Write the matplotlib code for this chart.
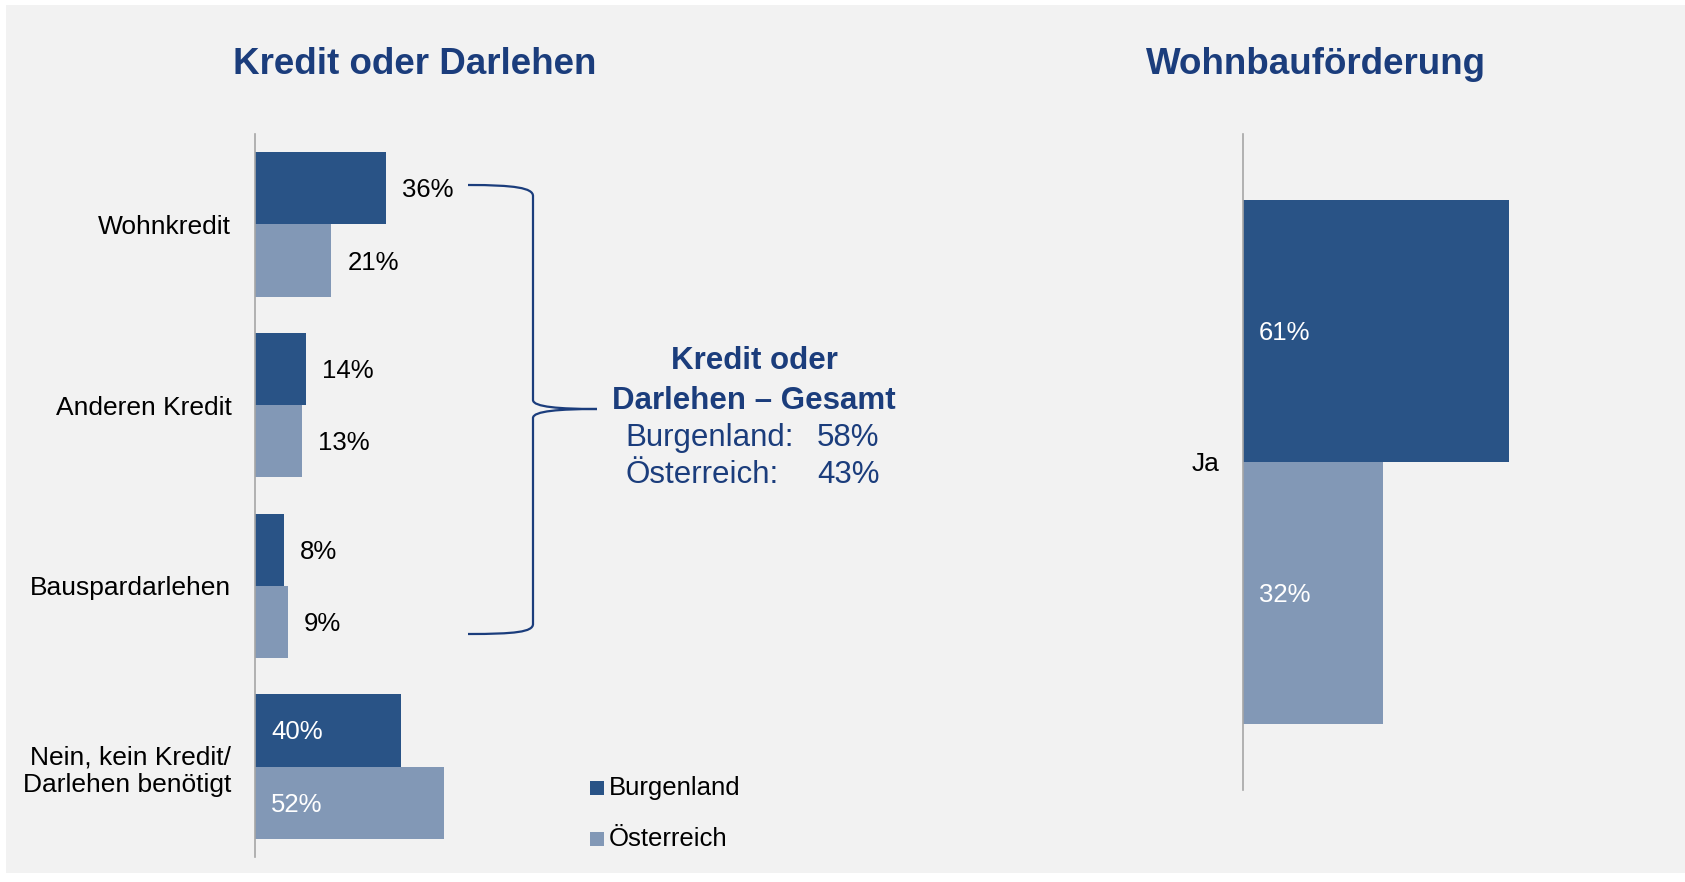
import matplotlib
matplotlib.use("Agg")
import matplotlib.pyplot as plt
from matplotlib.patches import Rectangle, PathPatch
from matplotlib.path import Path
import matplotlib.transforms as mtransforms

plt.rcParams['font.family'] = ['Liberation Sans', 'DejaVu Sans']

# ---------------- data ----------------
categories_left = ["Wohnkredit", "Anderen Kredit", "Bauspardarlehen", "Nein, kein Kredit/\nDarlehen benötigt"]
burgenland_left = [36, 14, 8, 40]
oesterreich_left = [21, 13, 9, 52]
inside_label_left = [False, False, False, True]

categories_right = ["Ja"]
burgenland_right = [61]
oesterreich_right = [32]

series_names = ["Burgenland", "Österreich"]
title_left = "Kredit oder Darlehen"
title_right = "Wohnbauförderung"
summary_title = "Kredit oder\nDarlehen – Gesamt"
summary_rows = [("Burgenland:", "58%"), ("Österreich:", "43%")]

# ---------------- style ----------------
W, H = 1685, 882
C_DARK = "#295386"
C_LIGHT = "#8298B6"
C_TITLE = "#1B3D7C"
C_AXIS = "#A6A6A6"
BG = "#F2F2F2"

fig = plt.figure(figsize=(W / 100, H / 100), dpi=100, facecolor="white")
# pixel transform (origin top-left)
pxT = mtransforms.Affine2D().scale(1 / W, -1 / H).translate(0, 1) + fig.transFigure

fig.patches.append(Rectangle((6, 5), W - 6, 868, transform=pxT, facecolor=BG,
                             edgecolor="none", zorder=-10))


def make_axes(x0, top, bottom, px_per_pct):
    width = 100 * px_per_pct
    ax = fig.add_axes([x0 / W, 1 - bottom / H, width / W, (bottom - top) / H])
    ax.set_facecolor("none")
    ax.set_xlim(0, 100)
    for s in ["top", "right", "bottom"]:
        ax.spines[s].set_visible(False)
    ax.spines["left"].set_color(C_AXIS)
    ax.spines["left"].set_linewidth(1.2)
    ax.set_xticks([])
    ax.tick_params(axis="y", length=0, pad=17, labelsize=19)
    return ax


def draw_bars(ax, cats, b_vals, o_vals, inside):
    n = len(cats)
    ys = list(range(n))
    ax.barh([y - 0.2 for y in ys], b_vals, height=0.4, color=C_DARK, label=series_names[0])
    ax.barh([y + 0.2 for y in ys], o_vals, height=0.4, color=C_LIGHT, label=series_names[1])
    ax.set_ylim(n - 0.5, -0.5)
    ax.set_yticks(ys)
    ax.set_yticklabels(cats, ha="right", multialignment="right")
    for y, bv, ov, ins in zip(ys, b_vals, o_vals, inside):
        for yy, v in ((y - 0.2, bv), (y + 0.2, ov)):
            if ins:
                ax.annotate(f"{v}%", (0, yy), xytext=(16, -2), textcoords="offset pixels",
                            va="center", ha="left", color="white", fontsize=18.5)
            else:
                ax.annotate(f"{v}%", (v, yy), xytext=(16, -2), textcoords="offset pixels",
                            va="center", ha="left", color="black", fontsize=18.5)


axL = make_axes(255, 134, 857, 3.64)
draw_bars(axL, categories_left, burgenland_left, oesterreich_left, inside_label_left)

axR = make_axes(1243, 134, 790, 4.36)
draw_bars(axR, categories_right, burgenland_right, oesterreich_right, [True])

# titles
fig.text(415 / W, 1 - 65 / H, title_left, ha="center", va="center", fontsize=26.5,
         fontweight="bold", color=C_TITLE)
fig.text(1316 / W, 1 - 65 / H, title_right, ha="center", va="center", fontsize=26.5,
         fontweight="bold", color=C_TITLE)

# brace
verts = [(468, 185), (515, 185), (533, 188), (533, 196),
         (533, 400),
         (533, 407), (560, 409), (597, 409),
         (560, 409), (533, 411), (533, 418),
         (533, 624),
         (533, 632), (515, 634), (468, 634)]
codes = [Path.MOVETO, Path.CURVE4, Path.CURVE4, Path.CURVE4,
         Path.LINETO,
         Path.CURVE4, Path.CURVE4, Path.CURVE4,
         Path.CURVE4, Path.CURVE4, Path.CURVE4,
         Path.LINETO,
         Path.CURVE4, Path.CURVE4, Path.CURVE4]
fig.patches.append(PathPatch(Path(verts, codes), transform=pxT, facecolor="none",
                             edgecolor=C_TITLE, linewidth=1.6))

# summary text
fig.text(754 / W, 1 - 361 / H, summary_title.split("\n")[0], ha="center", va="center",
         fontsize=22.5, fontweight="bold", color=C_TITLE)
fig.text(754 / W, 1 - 401 / H, summary_title.split("\n")[1], ha="center", va="center",
         fontsize=22.5, fontweight="bold", color=C_TITLE)
for i, (lab, val) in enumerate(summary_rows):
    y = 438 + i * 37
    fig.text(625 / W, 1 - y / H, lab, ha="left", va="center", fontsize=22.5, color=C_TITLE)
    fig.text(817 / W, 1 - y / H, val, ha="left", va="center", fontsize=22.5, color=C_TITLE)

# legend (manual)
for i, (name, col) in enumerate(zip(series_names, [C_DARK, C_LIGHT])):
    yc = 788 + i * 51
    fig.patches.append(Rectangle((590, yc - 7), 14, 14, transform=pxT, facecolor=col,
                                 edgecolor="none"))
    fig.text(609 / W, 1 - yc / H, name, ha="left", va="center", fontsize=18.5, color="black")

fig.savefig("out.png", dpi=100, facecolor="white")
